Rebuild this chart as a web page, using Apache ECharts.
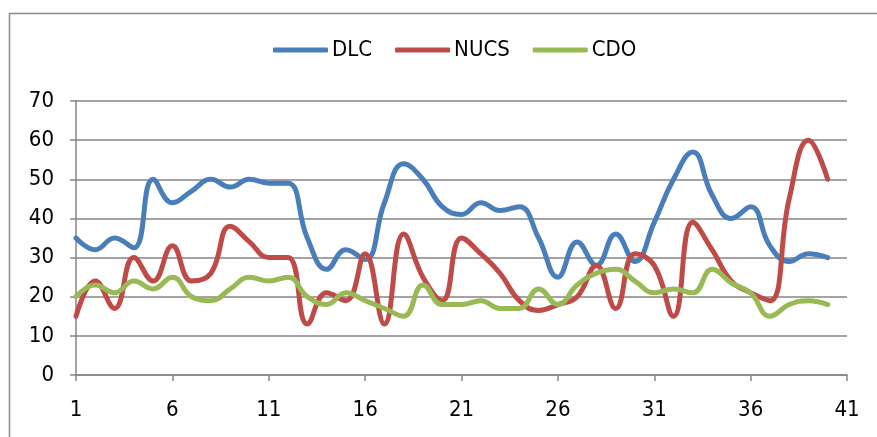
<!DOCTYPE html>
<html>
<head>
<meta charset="utf-8">
<script src="https://cdn.jsdelivr.net/npm/echarts@6.0.0/dist/echarts.min.js"></script>
<style>
  html, body { margin: 0; padding: 0; background: #fff; }
  #chart { width: 877px; height: 437px; }
</style>
</head>
<body>
<div id="chart"></div>
<script>
// values, points 1..40
var dlc  = [35, 32, 35, 32.5, 50, 44, 47, 50, 48, 50, 49, 49, 35, 27, 32, 29.5, 44, 54, 50, 43,
            41, 44, 42, 43, 35, 25, 34, 28, 36, 29, 39, 50, 57, 46, 40, 43, 33, 29, 31, 30];
var nucs = [15, 24, 17, 30, 24, 33, 24, 26, 38, 34, 30, 30, 13, 21, 19, 31, 13, 36, 25, 19,
            35, 31, 26, 19, 16.5, 18, 20, 28, 17, 31, 28, 15, 39, 32, 24, 21, 19, 45, 60, 50];
var cdo  = [20, 23, 21, 24, 22, 25, 20, 19, 22, 25, 24, 25, 20, 18, 21, 19, 17, 15, 23, 18,
            18, 19, 17, 17, 22, 18, 23, 26, 27, 24, 21, 22, 21, 27, 23.5, 21, 15, 18, 19, 18];
var names = ['DLC', 'NUCS', 'CDO'];
var colors = ['#4A7EBB', '#BE4B48', '#98B954'];

var font = "'Liberation Sans Narrow', 'DejaVu Sans Condensed', sans-serif";

function pairs(arr) {
  var out = [];
  for (var i = 0; i < arr.length; i++) out.push([i + 1, arr[i]]);
  return out;
}

var chart = echarts.init(document.getElementById('chart'));

var series = [dlc, nucs, cdo].map(function (arr, k) {
  return {
    name: names[k],
    type: 'line',
    data: pairs(arr),
    smooth: 0.45,
    showSymbol: false,
    symbol: 'none',
    lineStyle: { color: colors[k], width: 5, cap: 'round', join: 'round' },
    itemStyle: { color: colors[k] }
  };
});

chart.setOption({
  backgroundColor: '#fff',
  animation: false,
  graphic: [{
    type: 'rect',
    left: 7, top: 11,
    shape: { width: 900, height: 500 },
    style: { fill: 'none', stroke: '#898989', lineWidth: 1.5 },
    z: -1
  }],
  legend: {
    data: names,
    left: 268,
    top: 34,
    icon: 'roundRect',
    itemWidth: 55,
    itemHeight: 5,
    itemGap: 23,
    textStyle: { fontFamily: font, fontSize: 22, color: '#000', padding: [0, 0, 0, -1] }
  },
  grid: { left: 76, right: 30, top: 101, bottom: 62 },
  xAxis: {
    type: 'value',
    min: 1, max: 41, interval: 5,
    axisLine: { lineStyle: { color: '#868686', width: 1.5 } },
    axisTick: { show: true, length: 6, lineStyle: { color: '#868686', width: 1.5 } },
    axisLabel: { fontFamily: font, fontSize: 22, color: '#000', margin: 24 },
    splitLine: { show: false }
  },
  yAxis: {
    type: 'value',
    min: 0, max: 70, interval: 10,
    axisLine: { show: true, lineStyle: { color: '#868686', width: 1.5 } },
    axisTick: { show: true, length: 6, lineStyle: { color: '#868686', width: 1.5 } },
    axisLabel: { fontFamily: font, fontSize: 22, color: '#000', margin: 22 },
    splitLine: { show: true, lineStyle: { color: '#868686', width: 1.5 } }
  },
  series: series
});
</script>
</body>
</html>
